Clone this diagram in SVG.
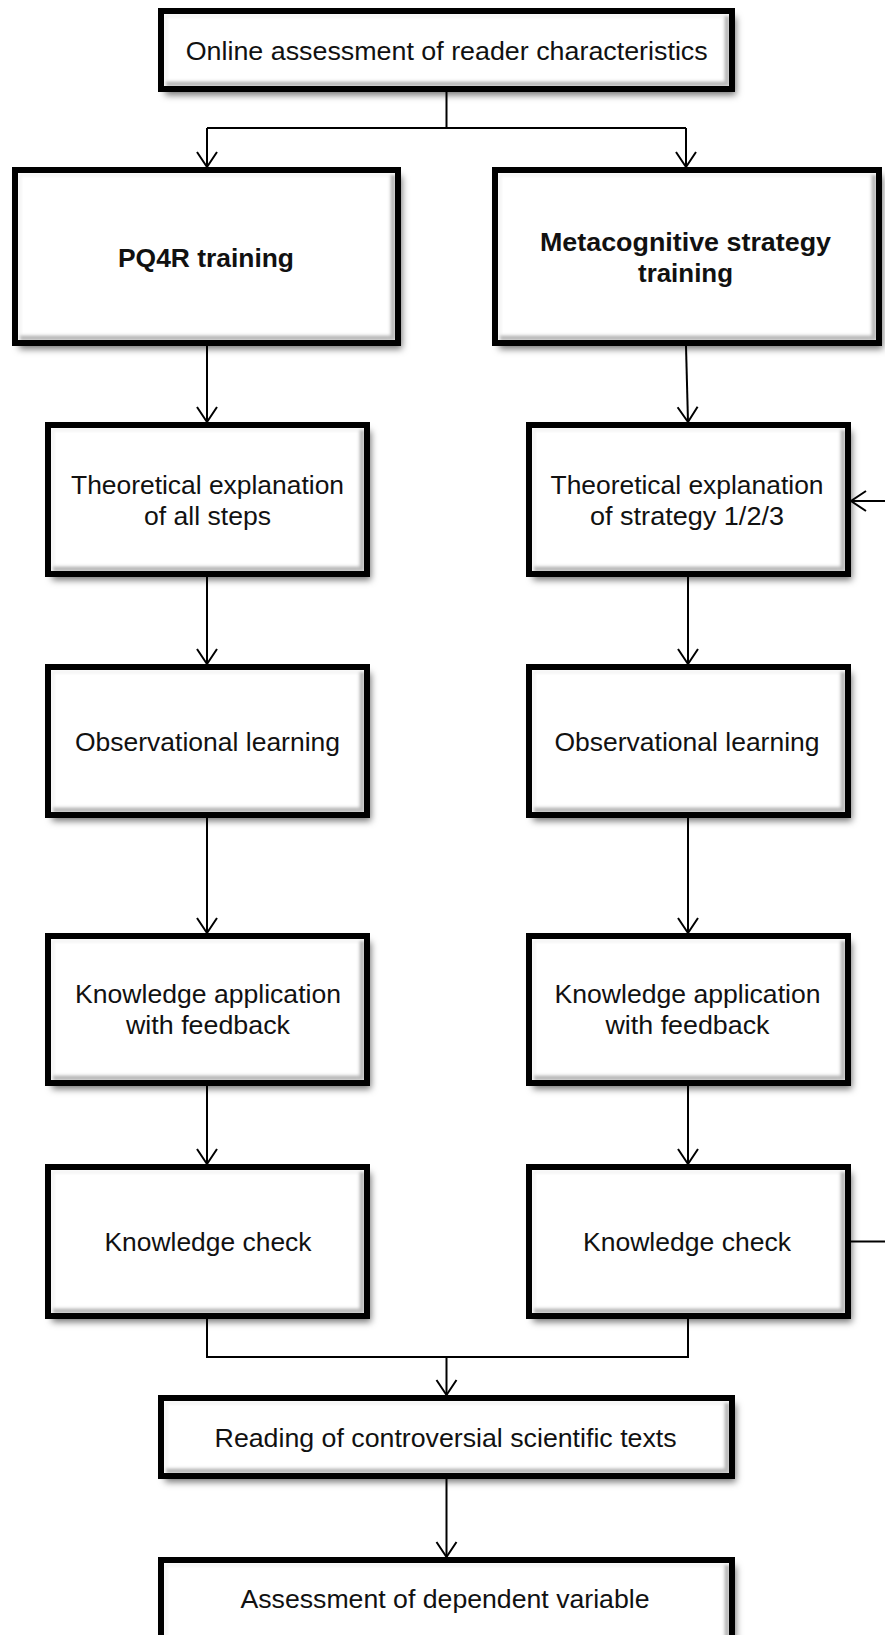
<svg xmlns="http://www.w3.org/2000/svg" width="885" height="1635" viewBox="0 0 885 1635">
<style>
.box{fill:#fff;stroke:none;filter:url(#shadow)}
.frame{fill:none;stroke:#000;stroke-width:6}
.br{fill:none;stroke:#b8b8b8;stroke-width:5;filter:url(#soft)}
.tl{fill:none;stroke:#eeeeee;stroke-width:2;filter:url(#soft)}
.t{font-family:"Liberation Sans",Arial,sans-serif;font-size:26px;fill:#111;text-anchor:middle}
.b{font-weight:bold}
.c{fill:none;stroke:#000;stroke-width:2}
.a{marker-end:url(#arr)}
</style>
<defs>
<filter id="shadow" x="-10%" y="-10%" width="125%" height="130%">
<feDropShadow dx="4" dy="6" stdDeviation="3.5" flood-color="#000" flood-opacity="0.55"/>
</filter>
<filter id="soft" x="-5%" y="-5%" width="110%" height="110%">
<feGaussianBlur stdDeviation="1.5"/>
</filter>
<marker id="arr" viewBox="0 0 16 22" refX="15" refY="11" markerWidth="16" markerHeight="22" markerUnits="userSpaceOnUse" orient="auto" overflow="visible">
<path d="M0,1 L15,11 L0,21" fill="none" stroke="#000" stroke-width="2"/>
</marker>
</defs>

<g id="connectors">
<path class="c" d="M446.5 92 V128 M207 128 H686"/>
<path class="c a" d="M207 128 V167"/>
<path class="c a" d="M686 128 V167"/>
<path class="c a" d="M207 346 V422"/>
<path class="c a" d="M686 346 L688 422"/>
<path class="c a" d="M207 577 V664"/>
<path class="c a" d="M688 577 V664"/>
<path class="c a" d="M207 818 V933"/>
<path class="c a" d="M688 818 V933"/>
<path class="c a" d="M207 1086 V1164"/>
<path class="c a" d="M688 1086 V1164"/>
<path class="c" d="M207 1319 V1357 H688 V1319"/>
<path class="c a" d="M446.5 1357 V1395"/>
<path class="c a" d="M446.5 1479 V1557"/>
<path class="c a" d="M851 1241.5 H905 V501 H851"/>
</g>

<g id="n-online">
<rect class="box" x="161" y="11" width="571" height="78"/>
<path class="tl" d="M166 84 V16 H727"/><path class="br" d="M727 16 V84 H166"/>
<rect class="frame" x="161" y="11" width="571" height="78"/>
<text class="t" x="446.7" y="60" textLength="522" lengthAdjust="spacingAndGlyphs">Online assessment of reader characteristics</text>
</g>

<g id="n-pq4r">
<rect class="box" x="15" y="170" width="383" height="173"/>
<path class="tl" d="M20 338 V175 H393"/><path class="br" d="M393 175 V338 H20"/>
<rect class="frame" x="15" y="170" width="383" height="173"/>
<text class="t b" x="206" y="266.5" textLength="176" lengthAdjust="spacingAndGlyphs">PQ4R training</text>
</g>

<g id="n-meta">
<rect class="box" x="495" y="170" width="384" height="173"/>
<path class="tl" d="M500 338 V175 H874"/><path class="br" d="M874 175 V338 H500"/>
<rect class="frame" x="495" y="170" width="384" height="173"/>
<text class="t b" x="685.5" y="251" textLength="291" lengthAdjust="spacingAndGlyphs">Metacognitive strategy</text>
<text class="t b" x="685.5" y="282" textLength="95" lengthAdjust="spacingAndGlyphs">training</text>
</g>

<g id="n-theo-l">
<rect class="box" x="48" y="425" width="319" height="149"/>
<path class="tl" d="M53 569 V430 H362"/><path class="br" d="M362 430 V569 H53"/>
<rect class="frame" x="48" y="425" width="319" height="149"/>
<text class="t" x="207.5" y="494" textLength="273" lengthAdjust="spacingAndGlyphs">Theoretical explanation</text>
<text class="t" x="207.5" y="525" textLength="127" lengthAdjust="spacingAndGlyphs">of all steps</text>
</g>

<g id="n-theo-r">
<rect class="box" x="529" y="425" width="319" height="149"/>
<path class="tl" d="M534 569 V430 H843"/><path class="br" d="M843 430 V569 H534"/>
<rect class="frame" x="529" y="425" width="319" height="149"/>
<text class="t" x="687" y="494" textLength="273" lengthAdjust="spacingAndGlyphs">Theoretical explanation</text>
<text class="t" x="687" y="525" textLength="194" lengthAdjust="spacingAndGlyphs">of strategy 1/2/3</text>
</g>

<g id="n-obs-l">
<rect class="box" x="48" y="667" width="319" height="148"/>
<path class="tl" d="M53 810 V672 H362"/><path class="br" d="M362 672 V810 H53"/>
<rect class="frame" x="48" y="667" width="319" height="148"/>
<text class="t" x="207.5" y="751" textLength="265" lengthAdjust="spacingAndGlyphs">Observational learning</text>
</g>

<g id="n-obs-r">
<rect class="box" x="529" y="667" width="319" height="148"/>
<path class="tl" d="M534 810 V672 H843"/><path class="br" d="M843 672 V810 H534"/>
<rect class="frame" x="529" y="667" width="319" height="148"/>
<text class="t" x="687" y="751" textLength="265" lengthAdjust="spacingAndGlyphs">Observational learning</text>
</g>

<g id="n-ka-l">
<rect class="box" x="48" y="936" width="319" height="147"/>
<path class="tl" d="M53 1078 V941 H362"/><path class="br" d="M362 941 V1078 H53"/>
<rect class="frame" x="48" y="936" width="319" height="147"/>
<text class="t" x="208" y="1003" textLength="266" lengthAdjust="spacingAndGlyphs">Knowledge application</text>
<text class="t" x="208" y="1034" textLength="164" lengthAdjust="spacingAndGlyphs">with feedback</text>
</g>

<g id="n-ka-r">
<rect class="box" x="529" y="936" width="319" height="147"/>
<path class="tl" d="M534 1078 V941 H843"/><path class="br" d="M843 941 V1078 H534"/>
<rect class="frame" x="529" y="936" width="319" height="147"/>
<text class="t" x="687.5" y="1003" textLength="266" lengthAdjust="spacingAndGlyphs">Knowledge application</text>
<text class="t" x="687.5" y="1034" textLength="164" lengthAdjust="spacingAndGlyphs">with feedback</text>
</g>

<g id="n-kc-l">
<rect class="box" x="48" y="1167" width="319" height="149"/>
<path class="tl" d="M53 1311 V1172 H362"/><path class="br" d="M362 1172 V1311 H53"/>
<rect class="frame" x="48" y="1167" width="319" height="149"/>
<text class="t" x="208" y="1251" textLength="207" lengthAdjust="spacingAndGlyphs">Knowledge check</text>
</g>

<g id="n-kc-r">
<rect class="box" x="529" y="1167" width="319" height="149"/>
<path class="tl" d="M534 1311 V1172 H843"/><path class="br" d="M843 1172 V1311 H534"/>
<rect class="frame" x="529" y="1167" width="319" height="149"/>
<text class="t" x="687" y="1251" textLength="208" lengthAdjust="spacingAndGlyphs">Knowledge check</text>
</g>

<g id="n-reading">
<rect class="box" x="161" y="1398" width="571" height="78"/>
<path class="tl" d="M166 1471 V1403 H727"/><path class="br" d="M727 1403 V1471 H166"/>
<rect class="frame" x="161" y="1398" width="571" height="78"/>
<text class="t" x="445.6" y="1447" textLength="462" lengthAdjust="spacingAndGlyphs">Reading of controversial scientific texts</text>
</g>

<g id="n-assessment">
<rect class="box" x="161" y="1560" width="571" height="120"/>
<path class="tl" d="M166 1675 V1565 H727"/><path class="br" d="M727 1565 V1675 H166"/>
<rect class="frame" x="161" y="1560" width="571" height="120"/>
<text class="t" x="445" y="1608" textLength="409" lengthAdjust="spacingAndGlyphs">Assessment of dependent variable</text>
</g>
</svg>
